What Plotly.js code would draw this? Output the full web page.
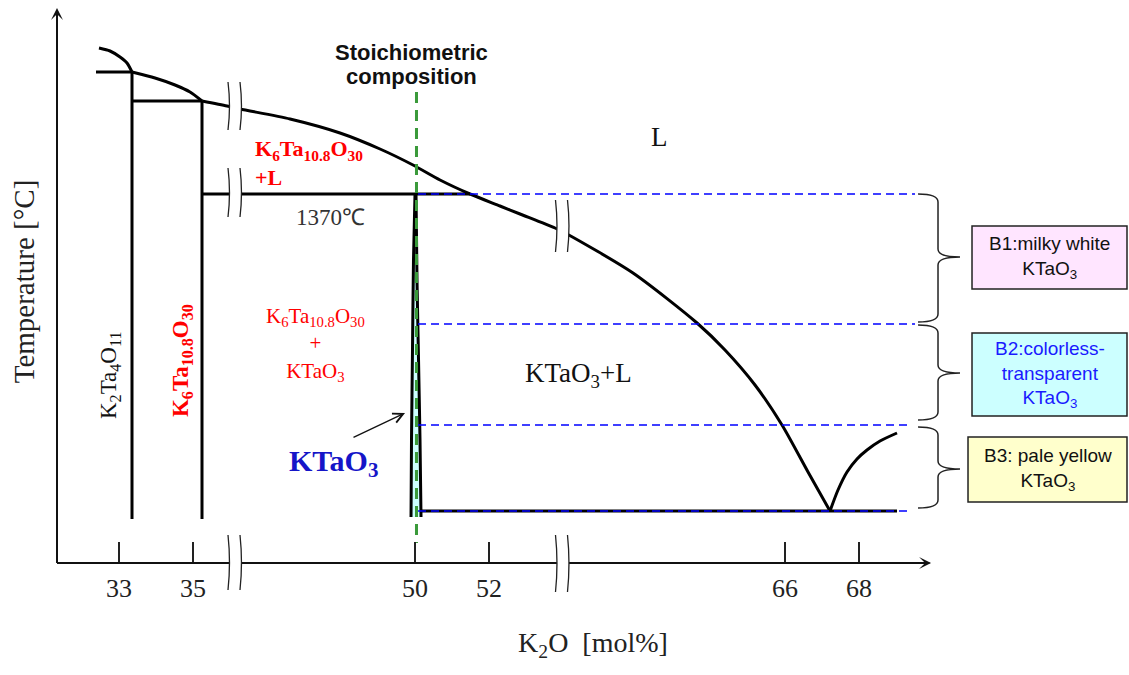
<!DOCTYPE html>
<html><head><meta charset="utf-8">
<script src="https://cdn.plot.ly/plotly-3.0.1.min.js"></script>
<style>html,body{margin:0;padding:0;background:#fff;} #chart{width:1129px;height:675px;}</style>
</head><body><div id="chart"></div>
<script>
// x: position on the broken K2O axis (display units); tick labels give mol% K2O
const xTickVals = [42, 44, 50, 52, 60, 62];
const xTickText = ['33', '35', '50', '52', '66', '68'];
// temperatures are relative (schematic) units
const arc1X = [41.459, 41.757, 42.027, 42.216, 42.351];
const arc1T = [515, 512, 506, 500, 491];
const arc2X = [42.351, 42.973, 43.514, 43.919, 44.243];
const arc2T = [491, 485, 478, 471, 462];
const liqX = [44.243, 44.919, 45.270, 46.622, 47.973, 49.054, 49.946, 50.676, 51.486, 52.297, 52.838, 53.784, 54.108, 55.892, 57.622, 58.378, 59.189, 59.919, 60.622, 61.216];
const liqT = [462, 457, 454, 444, 430, 414, 398, 383, 369, 357, 349, 335, 329, 290, 240, 213, 178, 138, 91, 52];
const liq2X = [61.216, 61.432, 61.676, 61.946, 62.216, 62.568, 63.027];
const liq2T = [52, 73, 91, 104, 113, 122, 130];
const compoundX = [42.351, 44.243];
const compoundTop = [491, 462];
const compoundBottom = 44;
const isoX0 = [41.378, 42.351, 44.243];
const isoX1 = [42.351, 44.243, 51.486];
const isoT = [491, 462, 369];
const ssLeftX = [50.0, 49.959, 49.932, 49.905, 49.892];
const ssLeftT = [369, 303, 213, 123, 46];
const ssRightX = [50.027, 50.054, 50.095, 50.135, 50.162];
const ssRightT = [369, 283, 203, 123, 46];
const eutX = [50.162, 63.027];
const eutT = 52;
const boundT = [369, 239, 138, 52];
const boundX0 = 50.081;
const boundX1 = [63.514, 63.514, 63.38, 63.38];
const stoX = 50.04;
const stoT = [471, 20];
const breakX = [45.108, 53.959];
const braceTop = [369, 238, 136];
const braceBot = [241, 143, 55];
const braceMid = [306, 190, 94];
const boxX0 = [65.054, 65.054, 64.946];
const boxX1 = [69.243, 69.243, 69.243];
const boxTop = [337, 230, 126];
const boxBot = [274, 147, 61];
const boxFill = ['#FFE5FF', '#CCFFFF', '#FFFFCC'];
const boxText = ['B1:milky white<br>KTaO<sub>3</sub>', 'B2:colorless-<br>transparent<br>KTaO<sub>3</sub>', 'B3: pale yellow<br>KTaO<sub>3</sub>'];
const boxTextColor = ['#111', '#1a1aff', '#111'];

const XR = [40.324, 69.297], YR = [0, 563];
const SERIF = 'Liberation Serif, Times New Roman, serif';
const SANS = 'Liberation Sans, Arial, sans-serif';
const blk = {color: '#000', width: 3};
const blkS = {color: '#000', width: 3, shape: 'spline', smoothing: 0.7};
const traces = [];
function L(x, y, line, extra) { traces.push(Object.assign({x: x, y: y, mode: 'lines', line: line, hoverinfo: 'skip', showlegend: false}, extra || {})); }

// KTaO3 solid solution fill
L(ssLeftX.concat(ssRightX.slice().reverse()), ssLeftT.concat(ssRightT.slice().reverse()), {width: 0}, {fill: 'toself', fillcolor: '#CCFFFF'});
L(arc1X, arc1T, blkS); L(arc2X, arc2T, blkS); L(liqX, liqT, blkS); L(liq2X, liq2T, blkS);
compoundX.forEach((x, i) => L([x, x], [compoundTop[i], compoundBottom], blk));
isoT.forEach((t, i) => L([isoX0[i], isoX1[i]], [t, t], blk));
L(ssLeftX, ssLeftT, blkS); L(ssRightX, ssRightT, blkS);
L(eutX, [eutT, eutT], blk);
boundT.forEach((t, i) => L([boundX0, boundX1[i]], [t, t], {color: '#0000FF', width: 1.6, dash: '8px,5px'}));
L([stoX, stoX], stoT, {color: '#3A9A3A', width: 3, dash: '11px,7px'});

const shapes = [];
// axes lines
shapes.push({type: 'line', xref: 'x', yref: 'paper', x0: XR[0], x1: 63.9, y0: 0, y1: 0, line: {color: '#111', width: 2}});
shapes.push({type: 'line', xref: 'paper', yref: 'y', x0: 0, x1: 0, y0: 0, y1: 552, line: {color: '#111', width: 2}});
// break marks
const bw = 0.162;
function breakMark(xc, yref, ytop, ybot) {
  const xa = xc - bw, xb = xc + bw, d = 0.08, ym = (ytop + ybot) / 2;
  shapes.push({type: 'path', xref: 'x', yref: yref, path: `M${xa},${ytop} Q${xa + d},${ym} ${xa},${ybot} L${xb},${ybot} Q${xb + d},${ym} ${xb},${ytop} Z`, fillcolor: '#fff', line: {width: 0}});
  [xa, xb].forEach(x => shapes.push({type: 'path', xref: 'x', yref: yref, path: `M${x},${ytop} Q${x + d},${ym} ${x},${ybot}`, line: {color: '#222', width: 1.3}}));
}
const ty = t => (t - YR[0]) / (YR[1] - YR[0]);
breakMark(breakX[0], 'y', 481, 433);
breakMark(breakX[0], 'y', 395, 346);
breakMark(breakX[0], 'paper', ty(28), ty(-27));
breakMark(breakX[1], 'y', 363, 311);
breakMark(breakX[1], 'paper', ty(28), ty(-29));
// braces
const bx0 = 63.595, bx1 = 64.135, bx2 = 64.73, r = 8;
braceTop.forEach((top, i) => {
  const bot = braceBot[i], mid = braceMid[i];
  shapes.push({type: 'path', xref: 'x', yref: 'y', line: {color: '#222', width: 1.5},
    path: `M${bx0},${top} Q${bx1},${top} ${bx1},${top - r} L${bx1},${mid + r} Q${bx1},${mid} ${bx2},${mid} Q${bx1},${mid} ${bx1},${mid - r} L${bx1},${bot + r} Q${bx1},${bot} ${bx0},${bot}`});
});
// boxes
boxTop.forEach((top, i) => shapes.push({type: 'rect', xref: 'x', yref: 'y', x0: boxX0[i], x1: boxX1[i], y0: boxBot[i], y1: top, fillcolor: boxFill[i], line: {color: '#222', width: 1.5}}));

const ann = [];
function T(x, y, text, size, color, extra) { ann.push(Object.assign({x: x, y: y, xref: 'x', yref: 'y', text: text, showarrow: false, font: {family: SERIF, size: size, color: color || '#111'}}, extra || {})); }
T(49.892, 511, '<b>Stoichiometric</b>', 22, '#111', {font: {family: SANS, size: 22, color: '#111'}, borderpad: 0});
T(49.892, 487, '<b>composition</b>', 22, '#111', {font: {family: SANS, size: 22, color: '#111'}, borderpad: 0});
T(56.595, 426, 'L', 27);
T(45.622, 400, '<b>K<sub>6</sub>Ta<sub>10.8</sub>O<sub>30</sub><br>+L</b>', 22, '#FF0000', {xanchor: 'left', align: 'left'});
T(47.703, 346, '1370℃', 23, '#333');
T(41.757, 188, 'K<sub>2</sub>Ta<sub>4</sub>O<sub>11</sub>', 23, '#111', {textangle: -90});
T(43.703, 202, '<b>K<sub>6</sub>Ta<sub>10.8</sub>O<sub>30</sub></b>', 23, '#FF0000', {textangle: -90});
T(47.297, 219, 'K<sub>6</sub>Ta<sub>10.8</sub>O<sub>30</sub><br>+<br>KTaO<sub>3</sub>', 21, '#FF0000');
T(47.784, 100, '<b>KTaO<sub>3</sub></b>', 30, '#1515C8');
T(54.405, 188, 'KTaO<sub>3</sub>+L', 27);
boxText.forEach((t, i) => ann.push({x: (boxX0[i] + boxX1[i]) / 2, y: (boxTop[i] + boxBot[i]) / 2, xref: 'x', yref: 'y', text: t, showarrow: false, font: {family: SANS, size: 19, color: boxTextColor[i]}}));
// pointer arrow
ann.push({x: 49.73, y: 150, ax: 48.297, ay: 125, xref: 'x', yref: 'y', axref: 'x', ayref: 'y', text: '', showarrow: true, arrowhead: 5, arrowsize: 1.5, arrowwidth: 1.3, arrowcolor: '#111'});
// axis arrowheads
ann.push({x: 63.946, y: 0, xref: 'x', yref: 'y', ax: -14, ay: 0, text: '', showarrow: true, arrowhead: 3, arrowsize: 1, arrowwidth: 2, arrowcolor: '#111'});
ann.push({x: 0, y: 555, xref: 'paper', yref: 'y', ax: 0, ay: 14, text: '', showarrow: true, arrowhead: 3, arrowsize: 1, arrowwidth: 2, arrowcolor: '#111'});

const layout = {
  width: 1129, height: 675, margin: {l: 57, r: 0, t: 0, b: 112},
  paper_bgcolor: '#fff', plot_bgcolor: 'rgba(0,0,0,0)',
  xaxis: {range: XR, showgrid: false, zeroline: false, showline: false, tickmode: 'array', tickvals: xTickVals, ticktext: xTickText,
    ticks: 'inside', ticklen: 21, tickwidth: 1.3, tickcolor: '#222', ticklabelstandoff: 7,
    tickfont: {family: SERIF, size: 26, color: '#222'}, fixedrange: true,
    title: {text: 'K<sub>2</sub>O  [mol%]', font: {family: SERIF, size: 28, color: '#222'}, standoff: 30}},
  yaxis: {range: YR, showgrid: false, zeroline: false, showline: false, showticklabels: false, ticks: '', fixedrange: true,
    title: {text: 'Temperature [°C]', font: {family: SERIF, size: 29, color: '#222'}, standoff: 12}},
  shapes: shapes, annotations: ann, showlegend: false
};
Plotly.newPlot('chart', traces, layout, {displayModeBar: false, staticPlot: true});
</script></body></html>
